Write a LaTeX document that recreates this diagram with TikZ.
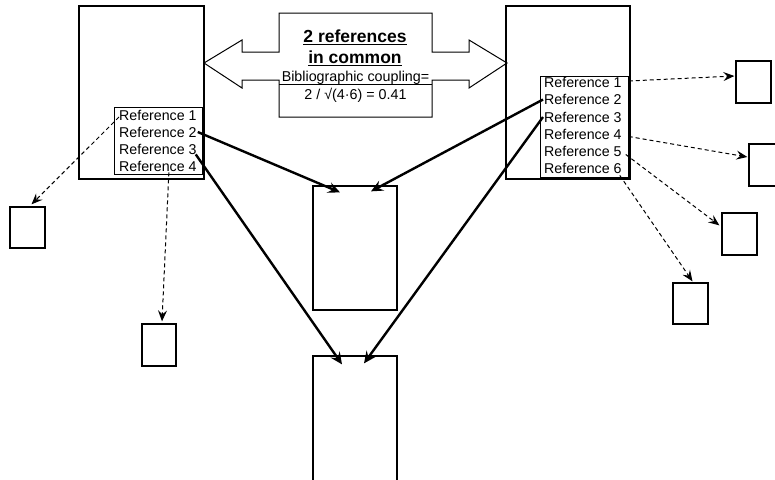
\documentclass[tikz,border=0pt]{standalone}
\usepackage{fontspec}
\setmainfont{Liberation Sans}
\usetikzlibrary{arrows.meta}
\begin{document}
\begin{tikzpicture}[x=1pt,y=-1pt,
  docbox/.style={draw, line width=1.6pt, inner sep=0pt},
  smallbox/.style={draw, line width=1.3pt, inner sep=0pt},
  reflist/.style={draw, line width=1pt},
  refline/.style={anchor=west, inner sep=0pt, font=\fontsize{14.2}{16}\selectfont},
  cite/.style={line width=2.4pt, -{Stealth[length=12pt,width=11pt,inset=4.5pt]}},
  other/.style={line width=1pt, dash pattern=on 4pt off 3pt, -{Stealth[length=11pt,width=9pt,inset=4pt]}},
  callout/.style={draw, line width=1pt},
  headline/.style={inner sep=0pt, font=\fontsize{17.5}{21}\selectfont\bfseries},
  bodyline/.style={inner sep=0pt, font=\fontsize{14.3}{16}\selectfont},
]
\useasboundingbox (0,0) rectangle (775,479);
\clip (0,0) rectangle (775,479);

% the two coupled documents
\node[docbox, minimum width=125pt, minimum height=173pt] (docA) at (141.5,92.5) {};
\node[docbox, minimum width=124pt, minimum height=173pt] (docB) at (568,92.5) {};

% reference lists inside them
\draw[reflist] (114,107) rectangle (202,174);
\node[refline] (la1) at (119,115) {Reference 1};
\node[refline] (la2) at (119,132) {Reference 2};
\node[refline] (la3) at (119,149) {Reference 3};
\node[refline] (la4) at (119,166) {Reference 4};

\draw[reflist] (540,76) rectangle (628,177);
\node[refline] (lb1) at (544,82) {Reference 1};
\node[refline] (lb2) at (544,99.5) {Reference 2};
\node[refline] (lb3) at (544,117) {Reference 3};
\node[refline] (lb4) at (544,134.5) {Reference 4};
\node[refline] (lb5) at (544,151.5) {Reference 5};
\node[refline] (lb6) at (544,168) {Reference 6};

% shared cited documents
\node[smallbox, minimum width=84pt, minimum height=124pt] (m1) at (355,248) {};
\node[smallbox, minimum width=84pt, minimum height=180pt] (m2) at (355,446) {};

% other cited documents
\node[smallbox, minimum width=35pt, minimum height=41pt] (a1) at (27.5,227.5) {};
\node[smallbox, minimum width=34pt, minimum height=42pt] (a2) at (159,345) {};
\node[smallbox, minimum width=35pt, minimum height=42pt] (b1) at (753.5,82) {};
\node[smallbox, minimum width=36pt, minimum height=42pt] (b2) at (767,165) {};
\node[smallbox, minimum width=35pt, minimum height=42pt] (b3) at (739.5,234) {};
\node[smallbox, minimum width=35pt, minimum height=41pt] (b4) at (690.5,303.5) {};

% double arrow callout
\draw[callout] (204,63) -- (242,40) -- (242,52) -- (279,52) -- (279,13) -- (432,13)
  -- (432,52) -- (469,52) -- (469,40) -- (507,63) -- (469,88) -- (469,80) -- (432,80)
  -- (432,117) -- (279,117) -- (279,80) -- (242,80) -- (242,88) -- cycle;
\draw[line width=1pt] (279,84) -- (432,84);
\node[headline] (h1) at (355,37) {\underline{2 references}};
\node[headline] (h2) at (355,58) {\underline{in common}};
\node[bodyline] (c1) at (355.5,77.5) {Bibliographic coupling=};
\node[bodyline] (c2) at (355.5,95) {2 / √(4·6) = 0.41};

% citations shared by both documents
\draw[cite] ([xshift=1pt]la2.east) -- ([xshift=-15pt,yshift=-7pt]m1.north);
\draw[cite] ([xshift=-1pt]la3.south east) -- ([xshift=-13pt,yshift=-9pt]m2.north);
\draw[cite] ([xshift=-1pt]lb2.west) -- ([xshift=16pt,yshift=-6pt]m1.north);
\draw[cite] ([xshift=-1pt]lb3.west) -- ([xshift=9pt,yshift=-8pt]m2.north);

% citations that are not shared
\draw[other] ([yshift=-2pt]la1.west) -- ([xshift=4pt,yshift=2pt]a1.north);
\draw[other] ([xshift=11pt,yshift=-1pt]la4.south) -- ([xshift=3pt,yshift=2pt]a2.north);
\draw[other] ([xshift=7pt,yshift=1pt]lb1.east) -- ([xshift=-1pt,yshift=6pt]b1.west);
\draw[other] ([xshift=7pt,yshift=-2pt]lb4.east) -- ([xshift=-1pt,yshift=8pt]b2.west);
\draw[other] ([xshift=4pt,yshift=-3pt]lb5.east) -- ([xshift=-2pt,yshift=-13pt]b3.north west);
\draw[other] ([xshift=-2pt,yshift=-2pt]lb6.south east) -- ([xshift=2pt,yshift=1pt]b4.north);
\end{tikzpicture}
\end{document}
